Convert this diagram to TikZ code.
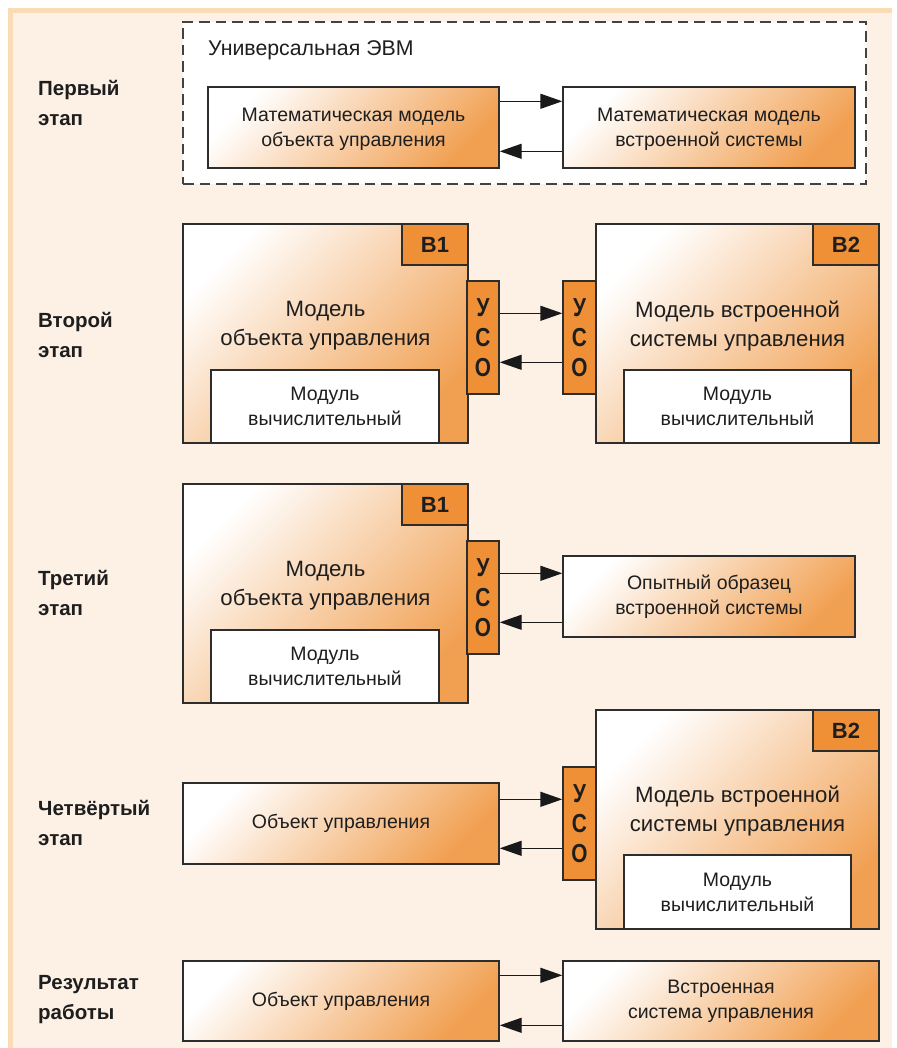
\documentclass[tikz,border=0pt]{standalone}
\usepackage{fontspec}
\setmainfont{Liberation Sans}
\newfontfamily\condfont{Liberation Sans}[FakeStretch=0.8]
\usetikzlibrary{arrows.meta,calc,fit}
\definecolor{bandc}{RGB}{250,220,180}
\definecolor{panelc}{RGB}{253,241,229}
\definecolor{orng}{RGB}{239,143,54}
\definecolor{gradend}{RGB}{241,160,82}
\definecolor{linec}{RGB}{45,45,45}
\definecolor{arrc}{RGB}{25,25,25}
\definecolor{txtc}{RGB}{30,30,30}
\newcommand\fszBig{\fontsize{22.2}{29}\selectfont}
\newcommand\fszEvm{\fontsize{21.3}{26}\selectfont}
\newcommand\fszMid{\fontsize{19.5}{25}\selectfont}
\newcommand\fszLab{\bfseries\fontsize{20.5}{30}\selectfont}
\newcommand\fszTag{\bfseries\fontsize{22}{26}\selectfont}
\newcommand\fszUso{\condfont\bfseries\fontsize{26}{30}\selectfont}
\begin{document}
\begin{tikzpicture}[x=1pt,y=-1pt,
  every node/.style={text=txtc},
  grad/.style={draw=linec, line width=1.4pt, top color=white, bottom color=gradend, shading angle=45, inner sep=0pt},
  modbox/.style={draw=linec, line width=1.4pt, fill=white, inner sep=0pt},
  tagbox/.style={draw=linec, line width=1.4pt, fill=orng, inner sep=0pt},
  usobox/.style={draw=linec, line width=1.4pt, fill=orng, inner sep=0pt},
  midtxt/.style={align=center, font=\fszMid, inner sep=0pt},
  bigtxt/.style={align=center, font=\fszBig, inner sep=0pt},
  tagtxt/.style={font=\fszTag, inner sep=0pt},
  usotxt/.style={align=center, font=\fszUso, inner sep=0pt},
  stagelab/.style={anchor=west, align=left, font=\fszLab, inner sep=0pt},
  arr/.style={draw=arrc, line width=1.4pt, -{Triangle[length=22pt,width=15pt]}},
  dashbox/.style={draw=linec!90, line width=1.2pt, dash pattern=on 10.5pt off 6pt, fill=white, inner sep=0pt}
]
\useasboundingbox (0,0) rectangle (896,1048);
% background
\fill[white] (0,0) rectangle (896,1048);
\fill[bandc] (8,8) rectangle (892,1048);
\fill[panelc] (13,13) rectangle (892,1048);

% ---------- stage 1
\node[stagelab] (lab1) at (38,103) {Первый\\этап};
\node[dashbox, fit={(183,22) (866,184)}] (evm) {};
\node[anchor=west, font=\fszEvm, inner sep=0pt] (evmt) at (208,50) {Универсальная ЭВМ};
\node[grad, fit={(208,87) (499,168)}] (m1) {};
\node[midtxt] (m1t) at ($(m1.center)+(0,1.5)$) {Математическая модель\\объекта управления};
\node[grad, fit={(563,87) (855,168)}] (m2) {};
\node[midtxt] (m2t) at ($(m2.center)+(0,1.5)$) {Математическая модель\\встроенной системы};
\draw[arr] ($(m1.north east)+(0,15)$) -- ($(m2.north west)+(0,15)$);
\draw[arr] ($(m2.north west)+(0,65)$) -- ($(m1.north east)+(0,65)$);

% ---------- stage 2
\node[stagelab] (lab2) at (38,335) {Второй\\этап};
\node[grad, fit={(183,224) (468,443)}] (b1) {};
\node[tagbox, fit={(402,224) (468,265)}] (t1) {};
\node[tagtxt] (t1t) at (t1.center) {В1};
\node[bigtxt] (b1t) at (325.5,326) {Модель\\объекта управления};
\node[modbox, fit={(211,370) (439,443)}] (mm1) {};
\node[midtxt] (mm1t) at (mm1.center) {Модуль\\вычислительный};
\node[usobox, fit={(467,281) (499,394)}] (u1) {};
\node[usotxt] (u1t) at (u1.center) {У\\С\\О};

\node[grad, fit={(596,224) (879,443)}] (b2) {};
\node[tagbox, fit={(813,224) (879,265)}] (t2) {};
\node[tagtxt] (t2t) at (t2.center) {В2};
\node[bigtxt] (b2t) at (737.5,326) {Модель встроенной\\системы управления};
\node[modbox, fit={(624,370) (851,443)}] (mm2) {};
\node[midtxt] (mm2t) at (mm2.center) {Модуль\\вычислительный};
\node[usobox, fit={(563,281) (596,394)}] (u2) {};
\node[usotxt] (u2t) at (u2.center) {У\\С\\О};
\draw[arr] ($(u1.north east)+(0,33)$) -- ($(u2.north west)+(0,33)$);
\draw[arr] ($(u2.north west)+(0,82)$) -- ($(u1.north east)+(0,82)$);

% ---------- stage 3
\node[stagelab] (lab3) at (38,593) {Третий\\этап};
\node[grad, fit={(183,484) (468,703)}] (b3) {};
\node[tagbox, fit={(402,484) (468,525)}] (t3) {};
\node[tagtxt] (t3t) at (t3.center) {В1};
\node[bigtxt] (b3t) at (325.5,586) {Модель\\объекта управления};
\node[modbox, fit={(211,630) (439,703)}] (mm3) {};
\node[midtxt] (mm3t) at (mm3.center) {Модуль\\вычислительный};
\node[usobox, fit={(467,541) (499,654)}] (u3) {};
\node[usotxt] (u3t) at (u3.center) {У\\С\\О};
\node[grad, fit={(563,556) (855,637)}] (r3) {};
\node[midtxt] (r3t) at (r3.center) {Опытный образец\\встроенной системы};
\draw[arr] ($(u3.north east)+(0,33)$) -- (r3.west |- {$(u3.north east)+(0,33)$});
\draw[arr] (r3.west |- {$(u3.north east)+(0,82)$}) -- ($(u3.north east)+(0,82)$);

% ---------- stage 4
\node[stagelab] (lab4) at (38,823) {Четвёртый\\этап};
\node[grad, fit={(183,783) (499,864)}] (l4) {};
\node[midtxt] (l4t) at (l4.center) {Объект управления};
\node[grad, fit={(596,710) (879,929)}] (b4) {};
\node[tagbox, fit={(813,710) (879,751)}] (t4) {};
\node[tagtxt] (t4t) at (t4.center) {В2};
\node[bigtxt] (b4t) at (737.5,811) {Модель встроенной\\системы управления};
\node[modbox, fit={(624,855) (851,929)}] (mm4) {};
\node[midtxt] (mm4t) at (mm4.center) {Модуль\\вычислительный};
\node[usobox, fit={(563,767) (596,880)}] (u4) {};
\node[usotxt] (u4t) at (u4.center) {У\\С\\О};
\draw[arr] (l4.east |- {$(u4.north west)+(0,33)$}) -- ($(u4.north west)+(0,33)$);
\draw[arr] ($(u4.north west)+(0,82)$) -- (l4.east |- {$(u4.north west)+(0,82)$});

% ---------- result
\node[stagelab] (lab5) at (38,1000) {Результат\\работы};
\node[grad, fit={(183,961) (499,1041)}] (l5) {};
\node[midtxt] (l5t) at (l5.center) {Объект управления};
\node[grad, fit={(563,961) (879,1041)}] (r5) {};
\node[midtxt] (r5t) at (r5.center) {Встроенная\\система управления};
\draw[arr] ($(l5.north east)+(0,15)$) -- ($(r5.north west)+(0,15)$);
\draw[arr] ($(r5.north west)+(0,65)$) -- ($(l5.north east)+(0,65)$);
\end{tikzpicture}
\end{document}
